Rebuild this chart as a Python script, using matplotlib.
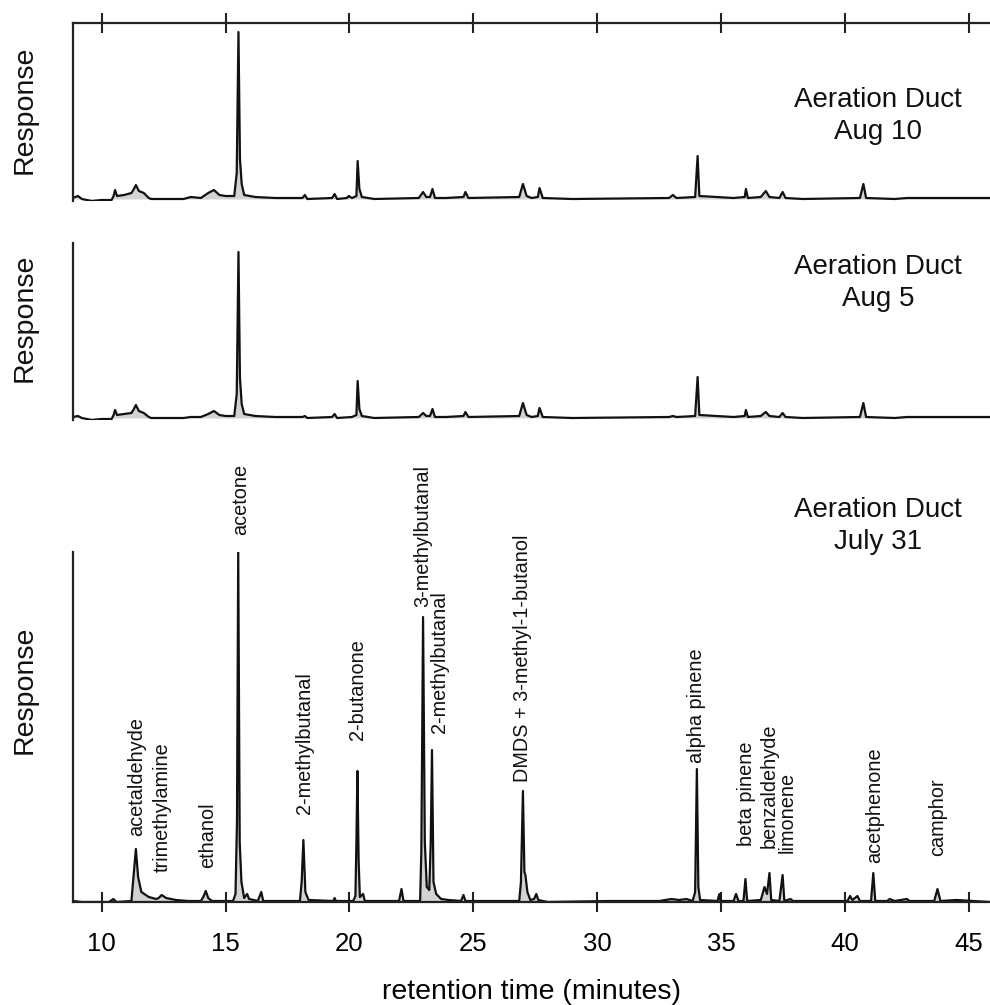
import matplotlib
matplotlib.use("Agg")
import matplotlib.pyplot as plt

plt.rcParams['font.family'] = ['Liberation Sans', 'DejaVu Sans']

# chromatogram traces: (retention time, response)
# Aug 10
t_aug10 = [8.83, 9.04, 9.2, 9.6, 10.0, 10.4, 10.48, 10.54, 10.62, 10.9, 11.2, 11.3, 11.38, 11.5,
           11.7, 11.9, 12.0, 13.3, 13.6, 14.0, 14.3, 14.53, 14.75, 15.0, 15.35, 15.45, 15.52,
           15.58, 15.65, 15.75, 16.2, 17.0, 18.1, 18.2, 18.3, 19.3, 19.4, 19.5, 19.9, 19.97,
           20.1, 20.28, 20.33, 20.4, 20.5, 21.0, 22.8, 22.97, 23.1, 23.25, 23.35, 23.45, 23.9,
           24.6, 24.68, 24.8, 26.85, 27.0, 27.15, 27.35, 27.6, 27.67, 27.8, 29.0, 32.9, 33.05,
           33.2, 33.95, 34.05, 34.12, 35.5, 35.95, 36.0, 36.08, 36.6, 36.8, 36.95, 37.35, 37.48,
           37.6, 38.3, 40.6, 40.74, 40.85, 42.0, 42.5, 45.85]
r_aug10 = [1, 3, 0, -2, -1, -1, 3, 9, 3, 4, 6, 10, 14, 8,
           6, 1, 0, 0, 2, 1, 6, 9, 4, 3, 3, 26, 167,
           40, 15, 4, 2, 1, 1, 4, 0, 1, 5, 0, 1, 3,
           1, 3, 38, 10, 2, 0, 1, 7, 2, 2, 10, 1, 1,
           2, 7, 1, 2, 15, 3, 1, 2, 11, 1, 0, 1, 4,
           1, 2, 43, 3, 1, 2, 10, 1, 2, 8, 2, 1, 7,
           1, 0, 1, 15, 1, 0, 1, 1]

# Aug 5
t_aug5 = [8.83, 9.04, 9.2, 9.6, 10.0, 10.4, 10.48, 10.54, 10.62, 10.9, 11.2, 11.3, 11.38, 11.5,
          11.7, 11.9, 12.0, 13.3, 13.6, 14.0, 14.3, 14.53, 14.75, 15.0, 15.35, 15.45, 15.52,
          15.58, 15.65, 15.75, 16.2, 17.0, 18.1, 18.2, 18.3, 19.3, 19.4, 19.5, 20.1, 20.28,
          20.33, 20.4, 20.5, 21.0, 22.8, 22.97, 23.1, 23.25, 23.35, 23.45, 23.9, 24.6, 24.68,
          24.8, 26.85, 27.0, 27.15, 27.35, 27.6, 27.67, 27.8, 29.0, 32.9, 33.05, 33.2, 33.95,
          34.05, 34.12, 35.5, 35.95, 36.0, 36.08, 36.6, 36.8, 36.95, 37.35, 37.48, 37.6, 38.3,
          40.6, 40.74, 40.85, 42.0, 42.5, 45.85]
r_aug5 = [1, 2, 0, -2, -1, -1, 3, 8, 3, 4, 5, 9, 13, 7,
          5, 1, 0, 0, 1, 1, 4, 7, 3, 2, 2, 24, 166,
          40, 14, 4, 2, 1, 1, 2, 0, 1, 4, 0, 1, 3,
          37, 9, 2, 0, 1, 5, 2, 2, 9, 1, 1, 2, 6,
          1, 2, 15, 3, 1, 2, 10, 1, 0, 1, 2, 1, 2,
          41, 3, 1, 2, 8, 1, 2, 6, 2, 1, 5, 1, 0,
          1, 15, 1, 0, 1, 1]

# July 31
t_jul31 = [8.83, 9.2, 10.3, 10.47, 10.6, 11.2, 11.3, 11.38, 11.47, 11.6, 11.9, 12.2, 12.3,
           12.42, 12.6, 13.0, 13.5, 14.0, 14.1, 14.2, 14.3, 14.45, 15.3, 15.4, 15.46, 15.51,
           15.57, 15.64, 15.75, 15.87, 15.95, 16.3, 16.44, 16.52, 18.0, 18.07, 18.14, 18.22,
           18.35, 19.35, 19.4, 19.45, 20.15, 20.24, 20.28, 20.32, 20.37, 20.42, 20.55, 20.62,
           22.0, 22.1, 22.18, 22.85, 22.9, 22.97, 23.04, 23.12, 23.22, 23.28, 23.33, 23.39,
           23.5, 23.7, 24.0, 24.5, 24.6, 24.68, 26.85, 26.92, 27.0, 27.06, 27.1, 27.18, 27.3,
           27.45, 27.54, 27.62, 28.0, 30.5, 32.5, 33.0, 33.3, 33.6, 33.85, 33.95, 34.02, 34.08,
           34.15, 34.85, 34.93, 34.98, 35.05, 35.5, 35.6, 35.7, 35.9, 35.98, 36.05, 36.6, 36.75,
           36.85, 36.95, 37.02, 37.35, 37.48, 37.55, 37.8, 37.9, 40.1, 40.2, 40.3, 40.5, 40.6,
           41.05, 41.14, 41.22, 41.7, 41.8, 42.0, 42.5, 42.6, 43.6, 43.73, 43.85, 44.5, 45.85]
r_jul31 = [1, 0, 0, 3, 0, 1, 30, 53, 25, 10, 5, 3, 4,
           7, 4, 2, 1, 1, 5, 11, 4, 1, 1, 8, 80, 350,
           60, 20, 4, 8, 3, 1, 10, 1, 1, 20, 62, 10,
           2, 1, 4, 1, 1, 6, 60, 131, 40, 5, 8, 1,
           1, 13, 1, 1, 50, 285, 60, 15, 12, 60, 152, 20,
           8, 3, 2, 1, 7, 1, 1, 20, 111, 30, 27, 10, 2,
           3, 8, 2, 0, 1, 1, 3, 2, 3, 1, 10, 133, 15,
           2, 1, 8, 0, 1, 1, 8, 1, 1, 23, 1, 2, 15,
           8, 29, 2, 1, 27, 1, 3, 1, 1, 6, 2, 6, 1,
           1, 29, 1, 1, 3, 1, 3, 1, 1, 13, 1, 2, 0]

# identified compounds (July 31)
peak_names = ['acetaldehyde', 'trimethylamine', 'ethanol', 'acetone', '2-methylbutanal',
              '2-butanone', '3-methylbutanal', '2-methylbutanal', 'DMDS + 3-methyl-1-butanol',
              'alpha pinene', 'beta pinene', 'benzaldehyde', 'limonene', 'acetphenone', 'camphor']
peak_rt = [11.38, 12.42, 14.2, 15.51, 18.14, 20.32, 22.97, 23.33, 27.0,
           34.02, 35.98, 36.95, 37.48, 41.14, 43.73]
peak_height = [53, 7, 11, 350, 62, 131, 285, 152, 111, 133, 23, 29, 27, 29, 13]

# label offsets from the peak apex, in pixels
label_dx = [1, 1, 2, 2, 1, 0, 0, 8, 0, 0, 1, 0, 5, 1, 0]
label_dy = [13, 23, 23, 17, 26, 31, 10, 17, 9, 6, 33, 25, 22, 10, 33]

sample_names = ['Aeration Duct\nAug 10', 'Aeration Duct\nAug 5', 'Aeration Duct\nJuly 31']
x_ticks = [10, 15, 20, 25, 30, 35, 40, 45]

W, H = 990, 1005
fig = plt.figure(figsize=(W / 100, H / 100), dpi=100)
left = 72.7 / W

def px_axes(top, bottom):
    return fig.add_axes([left, 1 - bottom / H, 1 - left, (bottom - top) / H])

ax1 = px_axes(23, 201)
ax2 = px_axes(243, 420)
ax3 = px_axes(552, 902)

traces = [(ax1, t_aug10, r_aug10, (-2, 176)),
          (ax2, t_aug5, r_aug5, (-2, 175)),
          (ax3, t_jul31, r_jul31, (0, 350))]

for ax, t, r, yl in traces:
    ax.fill_between(t, 0, r, color='#d2d2d2', lw=0)
    ax.plot(t, r, color='#111111', lw=1.6)
    ax.set_xlim(8.83, 45.85)
    ax.set_ylim(*yl)
    ax.set_yticks([])
    for s in ['right', 'top', 'bottom']:
        ax.spines[s].set_visible(False)
    ax.spines['left'].set_linewidth(1.6)
    ax.spines['left'].set_color('#222222')
    ax.patch.set_alpha(0)

# top panel: ticks along the top edge
ax1.spines['top'].set_visible(True)
ax1.spines['top'].set_linewidth(1.6)
ax1.spines['top'].set_color('#222222')
ax1.xaxis.tick_top()
ax1.set_xticks(x_ticks)
ax1.tick_params(axis='x', direction='inout', length=15, width=1.5, labeltop=False, color='#222222')

ax2.set_xticks([])

ax3.spines['bottom'].set_visible(True)
ax3.spines['bottom'].set_linewidth(1.6)
ax3.spines['bottom'].set_color('#222222')
ax3.set_xticks(x_ticks)
ax3.tick_params(axis='x', direction='inout', length=15, width=1.5, labelsize=18.5, pad=14,
                color='#222222')
ax3.set_xlabel('retention time (minutes)', fontsize=20.5, labelpad=17)

for name, rt, h, dx, dy in zip(peak_names, peak_rt, peak_height, label_dx, label_dy):
    ax3.annotate(name, xy=(rt, h), xytext=(dx, dy), textcoords='offset pixels',
                 rotation=90, ha='center', va='bottom', fontsize=14.3, color='#111111')

for (name, y) in zip(sample_names, [116, 283, 526]):
    fig.text(878 / W, 1 - y / H, name, ha='center', va='center', fontsize=20,
             color='#111111', linespacing=1.3)

for y in [110, 318, 690]:
    fig.text(25 / W, 1 - y / H, 'Response', rotation=90, ha='center', va='center',
             fontsize=20.5, color='#111111')

fig.savefig('out.png', dpi=100)
